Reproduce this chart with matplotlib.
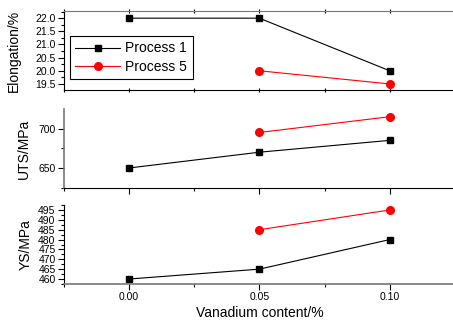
import matplotlib
matplotlib.use("Agg")
import matplotlib.pyplot as plt
from matplotlib.ticker import MultipleLocator

plt.rcParams['font.family'] = ['Liberation Sans', 'DejaVu Sans']

vanadium = [0.00, 0.05, 0.10]
vanadium_p5 = [0.05, 0.10]

elong_p1 = [22.0, 22.0, 20.0]
elong_p5 = [20.0, 19.5]
uts_p1 = [650, 670, 685]
uts_p5 = [695, 715]
ys_p1 = [460, 465, 480]
ys_p5 = [485, 495]

fig = plt.figure(figsize=(4.53, 3.26), dpi=100)

left, width, height = 0.141, 0.866, 0.242
ax1 = fig.add_axes([left, 0.724, width, height])
ax2 = fig.add_axes([left, 0.423, width, height])
ax3 = fig.add_axes([left, 0.129, width, height])

panels = [
    (ax1, elong_p1, elong_p5, "Elongation/%", (19.27, 22.27), 0.5, 0.25, -0.11),
    (ax2, uts_p1, uts_p5, "UTS/MPa", (624.5, 724.5), 50, 25, -0.085),
    (ax3, ys_p1, ys_p5, "YS/MPa", (457.5, 497.5), 5, 2.5, -0.08),
]

for ax, p1, p5, label, ylim, major, minor, lx in panels:
    ax.plot(vanadium, p1, color='black', lw=0.8, marker='s', ms=5,
            label='Process 1')
    ax.plot(vanadium_p5, p5, color='red', lw=0.8, marker='o', ms=5.5,
            label='Process 5')
    ax.set_xlim(-0.025, 0.1255)
    ax.set_ylim(*ylim)
    ax.xaxis.set_major_locator(MultipleLocator(0.05))
    ax.xaxis.set_minor_locator(MultipleLocator(0.025))
    ax.yaxis.set_major_locator(MultipleLocator(major))
    ax.yaxis.set_minor_locator(MultipleLocator(minor))
    ax.spines['right'].set_visible(False)
    ax.spines['top'].set_visible(False)
    ax.tick_params(axis='both', which='major', direction='out', length=4,
                   width=0.8, labelsize=7.5, pad=2)
    ax.tick_params(axis='both', which='minor', direction='out', length=2.5,
                   width=0.8)
    ax.set_ylabel(label, fontsize=10)
    ax.yaxis.set_label_coords(lx, 0.5)
    ax.yaxis.get_major_formatter().set_useOffset(False)

ax1.yaxis.set_major_formatter(plt.FormatStrFormatter('%.1f'))
ax1.spines['top'].set_visible(True)
ax1.spines['top'].set_color('#777777')
ax1.tick_params(axis='x', which='both', top=True, direction='inout', length=3)
ax1.tick_params(axis='x', labelbottom=False)
ax2.tick_params(axis='x', labelbottom=False)
ax2.spines['left'].set_color('#777777')
ax2.spines['left'].set_linewidth(1.2)
ax3.spines['bottom'].set_color('#777777')
ax3.spines['bottom'].set_linewidth(1.2)
ax3.xaxis.set_major_formatter(plt.FormatStrFormatter('%.2f'))
ax3.set_xlabel("Vanadium content/%", fontsize=10, labelpad=3)

leg = ax1.legend(loc='upper left', bbox_to_anchor=(0.015, 0.685),
                 borderaxespad=0, fontsize=10,
                 fancybox=False, framealpha=1, edgecolor='black',
                 handlelength=3.2, borderpad=0.4, labelspacing=0.3,
                 handletextpad=0.4)
leg.get_frame().set_linewidth(0.8)

fig.savefig("out.png", dpi=100)
